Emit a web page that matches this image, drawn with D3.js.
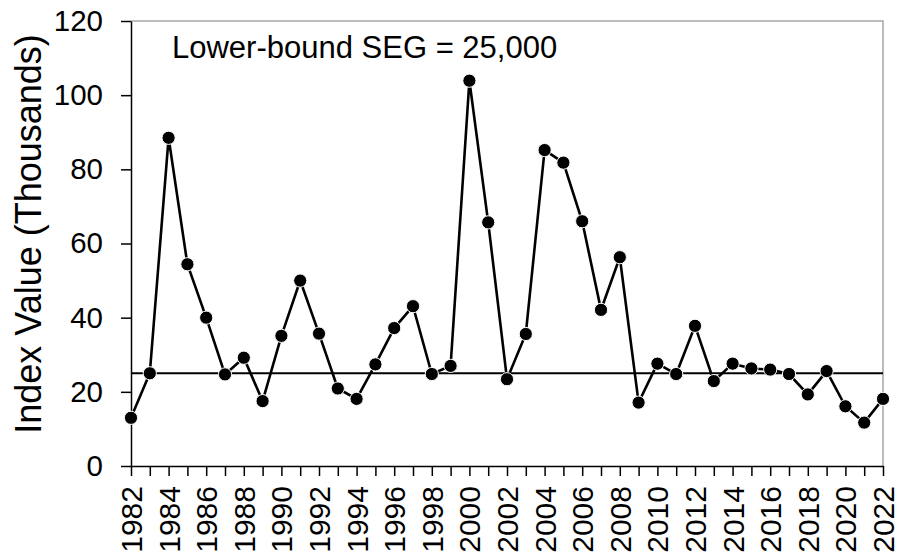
<!DOCTYPE html>
<html>
<head>
<meta charset="utf-8">
<script src="https://cdn.jsdelivr.net/npm/d3@7"></script>
<style>
  html, body { margin: 0; padding: 0; background: #fff; }
  svg { display: block; font-family: "Liberation Sans", Arial, sans-serif; }
</style>
</head>
<body>
<div id="chart"></div>
<script>
'use strict';

// ── Data ────────────────────────────────────────────────────────────────────
const years = d3.range(1982, 2023);
const indexValues = [
  13.0, 25.0, 88.5, 54.4, 40.0, 24.7, 29.2, 17.5, 35.1, 50.0,
  35.7, 20.9, 18.1, 27.4, 37.2, 43.1, 24.8, 27.0, 103.9, 65.7,
  23.4, 35.6, 85.2, 81.8, 66.0, 42.1, 56.3, 17.1, 27.6, 24.8,
  37.8, 22.9, 27.6, 26.3, 26.0, 24.8, 19.3, 25.6, 16.1, 11.7,
  18.1
];
const segLowerBound = 25;
const yTicks = [0, 20, 40, 60, 80, 100, 120];
const yTitle = 'Index Value (Thousands)';
const segLabel = 'Lower-bound SEG = 25,000';

// ── Layout ──────────────────────────────────────────────────────────────────
const W = 898, H = 555;
const PLOT = { left: 131, right: 883, top: 21, bottom: 466 };
const FONT = '"Liberation Sans", Arial, sans-serif';

const svg = d3.select('#chart').append('svg')
  .attr('width', W)
  .attr('height', H);

const x = d3.scaleLinear()
  .domain([years[0], years[years.length - 1]])
  .range([PLOT.left, PLOT.right]);

const y = d3.scaleLinear()
  .domain([0, 120])
  .range([PLOT.bottom, PLOT.top]);

// Plot frame (grey top / right)
svg.append('path')
  .attr('d', `M${PLOT.left},${PLOT.top}H${PLOT.right}V${PLOT.bottom}`)
  .attr('fill', 'none')
  .attr('stroke', '#a6a6a6')
  .attr('stroke-width', 1.5);

// ── Axes ────────────────────────────────────────────────────────────────────
const yAxis = svg.append('g')
  .attr('transform', `translate(${PLOT.left},0)`)
  .call(d3.axisLeft(y).tickValues(yTicks).tickSize(10).tickPadding(18).tickSizeOuter(0));

yAxis.selectAll('text')
  .attr('font-size', 29.5)
  .attr('font-family', FONT)
  .attr('fill', '#000');

const xAxis = svg.append('g')
  .attr('transform', `translate(0,${PLOT.bottom})`)
  .call(d3.axisBottom(x)
    .tickValues(years)
    .tickSize(10)
    .tickSizeOuter(0)
    .tickFormat(d => (d % 2 === 0 ? String(d) : '')));

xAxis.selectAll('text')
  .attr('font-size', 30)
  .attr('font-family', FONT)
  .attr('fill', '#000')
  .attr('transform', 'rotate(-90)')
  .attr('x', -20)
  .attr('y', 0)
  .attr('dy', '0.35em')
  .attr('text-anchor', 'end');

[xAxis, yAxis].forEach(g => {
  g.selectAll('.domain').attr('stroke', '#000').attr('stroke-width', 1.5);
  g.selectAll('.tick line').attr('stroke', '#000').attr('stroke-width', 1.5);
});

// Axis title
svg.append('text')
  .attr('transform', 'translate(41,234) rotate(-90)')
  .attr('text-anchor', 'middle')
  .attr('font-size', 36)
  .attr('fill', '#000')
  .text(yTitle);

// ── SEG reference line ──────────────────────────────────────────────────────
svg.append('line')
  .attr('x1', PLOT.left)
  .attr('x2', PLOT.right)
  .attr('y1', y(segLowerBound))
  .attr('y2', y(segLowerBound))
  .attr('stroke', '#000')
  .attr('stroke-width', 2);

svg.append('text')
  .attr('x', 172)
  .attr('y', 58)
  .attr('font-size', 31)
  .attr('fill', '#000')
  .text(segLabel);

// ── Series ──────────────────────────────────────────────────────────────────
const series = years.map((yr, i) => ({ year: yr, value: indexValues[i] }));

svg.append('path')
  .datum(series)
  .attr('fill', 'none')
  .attr('stroke', '#000')
  .attr('stroke-width', 2.6)
  .attr('d', d3.line().x(d => x(d.year)).y(d => y(d.value)));

svg.append('g')
  .selectAll('circle')
  .data(series)
  .enter()
  .append('circle')
  .attr('cx', d => x(d.year))
  .attr('cy', d => y(d.value))
  .attr('r', 6.6)
  .attr('fill', '#000')
  .attr('stroke', '#fff')
  .attr('stroke-width', 1);
</script>
</body>
</html>
